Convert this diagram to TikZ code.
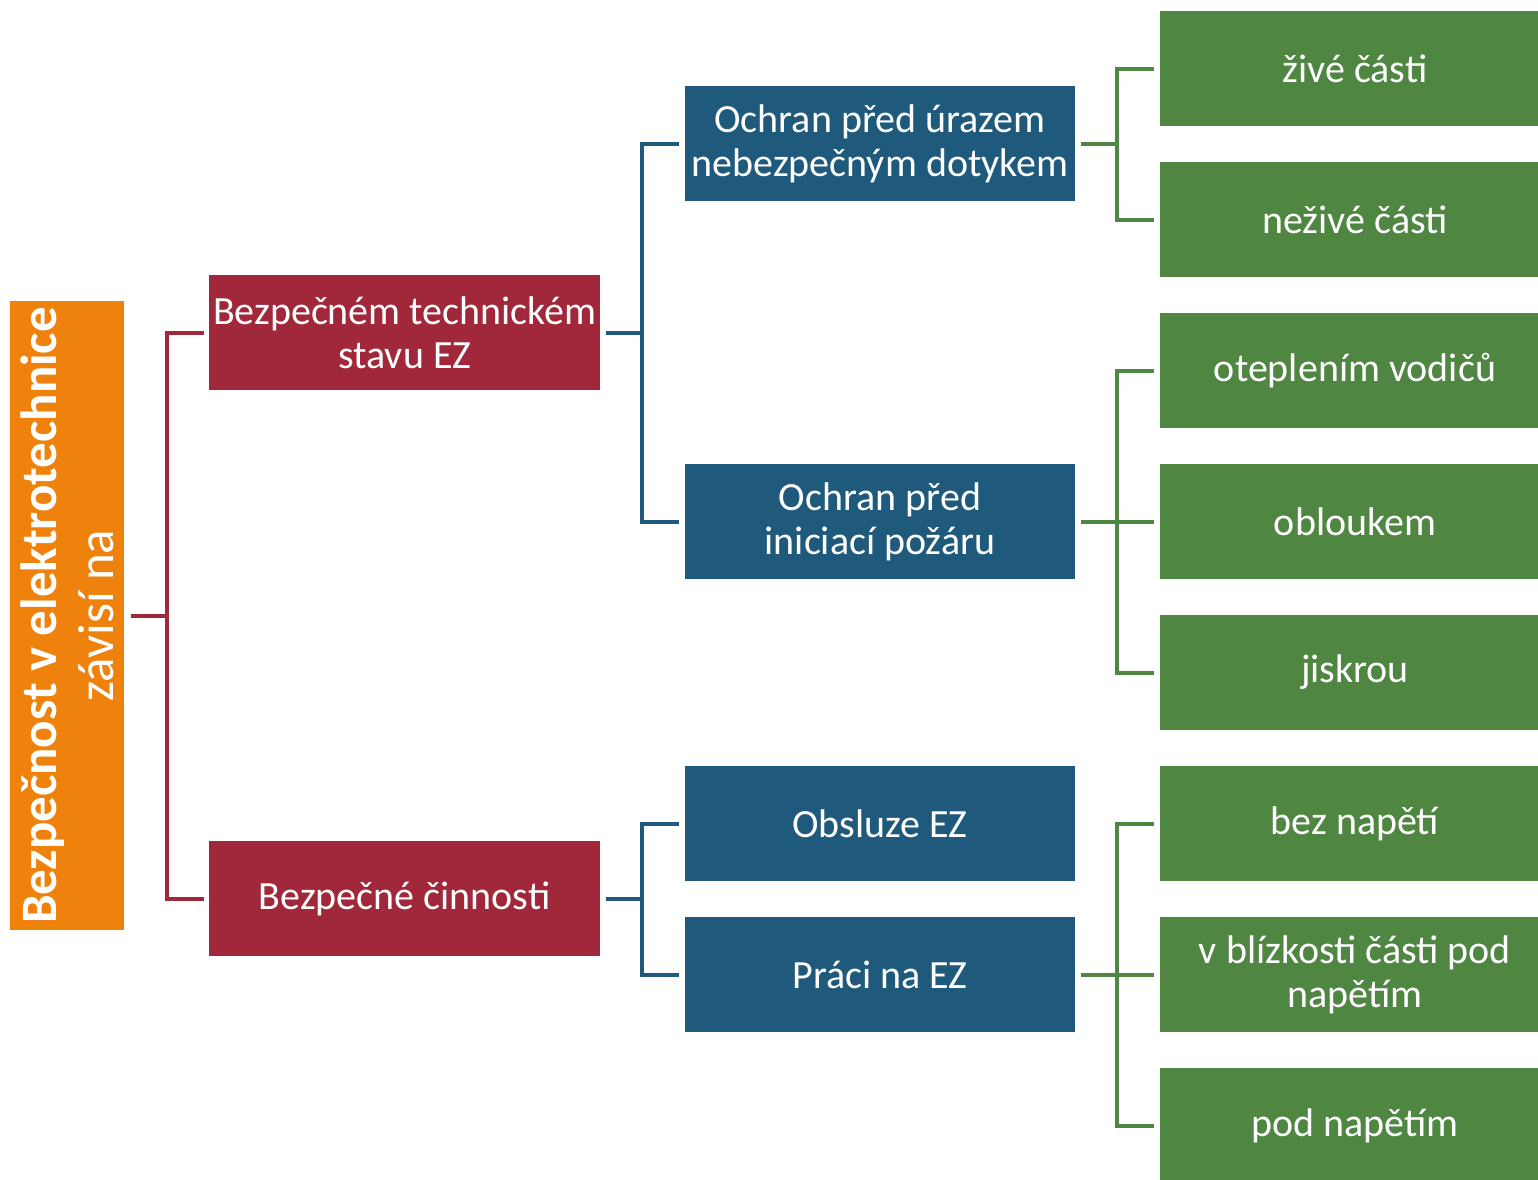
\documentclass[tikz,border=0pt]{standalone}
\usepackage{fontspec}
\setmainfont{Carlito}
\usepackage{xcolor}
\usetikzlibrary{positioning, calc}
\definecolor{ezorange}{HTML}{EF820D}
\definecolor{ezred}{HTML}{A0283A}
\definecolor{ezblue}{HTML}{1F5A7C}
\definecolor{ezgreen}{HTML}{4F8642}
\begin{document}
\begin{tikzpicture}[x=0.5pt, y=-0.5pt,
  nd/.style={inner sep=2pt, outer sep=0pt, align=center, text=white,
    font=\fontsize{20}{22}\selectfont, minimum height=57.5pt},
  rnd/.style={nd, fill=ezred, minimum width=195.5pt, anchor=north west},
  bnd/.style={nd, fill=ezblue, minimum width=195pt, anchor=north west},
  gnd/.style={nd, fill=ezgreen, minimum width=195pt, anchor=north west},
  conn/.style={line width=2pt}]
\useasboundingbox (0,0) rectangle (1538,1179);

\node[nd, fill=ezorange, rotate=90, minimum width=314.5pt, minimum height=57pt,
  font=\fontsize{25.5}{28.5}\selectfont] (top) at (67,615.5)
  {\textbf{Bezpečnost v elektrotechnice}\\závisí na};

\node[rnd] (tech) at (209,275) {Bezpečném technickém\\stavu EZ};
\node[rnd] (cin) at (209,841) {Bezpečné činnosti};

\node[bnd] (uraz) at (685,86) {Ochran před úrazem\\nebezpečným dotykem};
\node[bnd] (pozar) at (685,464) {Ochran před\\iniciací požáru};
\node[bnd] (obsl) at (685,766) {Obsluze EZ};
\node[bnd, below=18pt of obsl] (prace) {Práci na EZ};

\node[gnd] (zive) at (1160,11) {živé části};
\node[gnd, below=18pt of zive] (nezive) {neživé části};
\node[gnd, below=18pt of nezive] (otep) {oteplením vodičů};
\node[gnd, below=18pt of otep] (obl) {obloukem};
\node[gnd, below=18pt of obl] (jisk) {jiskrou};
\node[gnd, below=18pt of jisk] (bez) {bez napětí};
\node[gnd, below=18pt of bez] (bliz) {v blízkosti části pod\\napětím};
\node[gnd, below=18pt of bliz] (pod) {pod napětím};

% brackets
\foreach \t in {tech,cin}
  \draw[conn,ezred] ([xshift=3.5pt]top.south) -- ++(18pt,0) |- ([xshift=-2.5pt]\t.west);
\foreach \t in {uraz,pozar}
  \draw[conn,ezblue] ([xshift=3pt]tech.east) -- ++(18pt,0) |- ([xshift=-3pt]\t.west);
\foreach \t in {obsl,prace}
  \draw[conn,ezblue] ([xshift=3pt]cin.east) -- ++(18pt,0) |- ([xshift=-3pt]\t.west);
\foreach \t in {zive,nezive}
  \draw[conn,ezgreen] ([xshift=3pt]uraz.east) -- ++(18pt,0) |- ([xshift=-3pt]\t.west);
\foreach \t in {otep,obl,jisk}
  \draw[conn,ezgreen] ([xshift=3pt]pozar.east) -- ++(18pt,0) |- ([xshift=-3pt]\t.west);
\foreach \t in {bez,bliz,pod}
  \draw[conn,ezgreen] ([xshift=3pt]prace.east) -- ++(18pt,0) |- ([xshift=-3pt]\t.west);

\end{tikzpicture}
\end{document}
